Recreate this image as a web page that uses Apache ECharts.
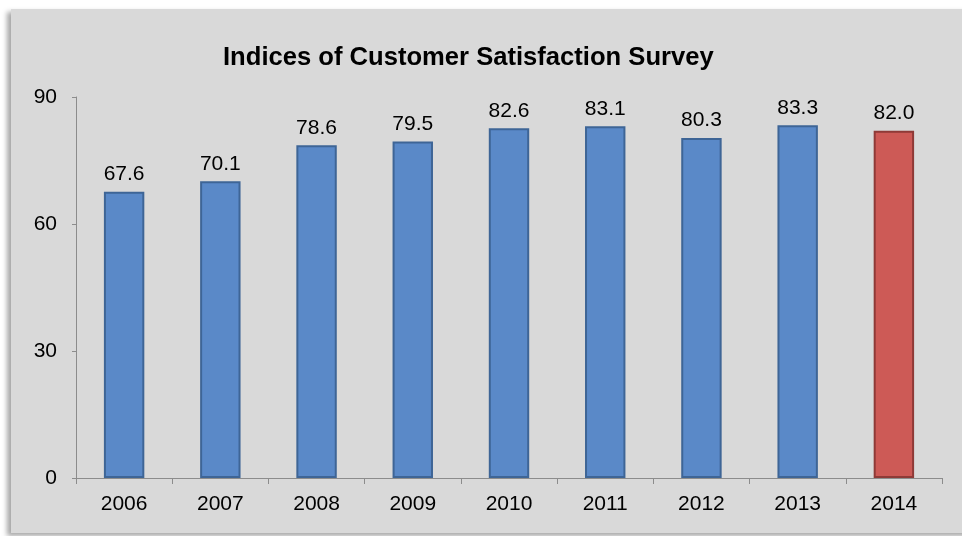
<!DOCTYPE html>
<html>
<head>
<meta charset="utf-8">
<script src="https://cdn.jsdelivr.net/npm/echarts@6/dist/echarts.min.js"></script>
<style>
html,body{margin:0;padding:0;background:#fff;width:962px;height:536px;overflow:hidden;}
#bg{position:absolute;left:11px;top:9px;width:960px;height:524px;background:#d9d9d9;box-shadow:-4px 3px 5px rgba(0,0,0,0.35);}
#chart{position:absolute;left:0;top:0;width:962px;height:536px;}
</style>
</head>
<body>
<div id="bg"></div>
<div id="chart"></div>
<script>
var categories = ['2006','2007','2008','2009','2010','2011','2012','2013','2014'];
var values = [67.6, 70.1, 78.6, 79.5, 82.6, 83.1, 80.3, 83.3, 82.0];
var yTicks = [0, 30, 60, 90];
var titleText = 'Indices of Customer Satisfaction Survey';

var blue = '#5a89c8', blueBorder = '#3e6596';
var red = '#cd5a56', redBorder = '#8f3a37';

var chart = echarts.init(document.getElementById('chart'), null, {renderer:'canvas'});
var font = 'Liberation Sans, Arial, sans-serif';
chart.setOption({
  animation: false,
  backgroundColor: 'transparent',
  title: {
    text: titleText,
    left: 223,
    top: 45,
    padding: 0,
    textStyle: {fontFamily: font, fontSize: 25.6, fontWeight: 'bold', color: '#000'}
  },
  grid: {left: 76, right: 20, top: 97, bottom: 58, containLabel: false},
  xAxis: {
    type: 'category',
    data: categories,
    boundaryGap: true,
    axisLine: {show: true, lineStyle: {color: '#8c8c8c', width: 1}},
    axisTick: {show: true, length: 6, alignWithLabel: false, lineStyle: {color: '#8c8c8c'}},
    axisLabel: {fontFamily: font, fontSize: 21, color: '#000', margin: 16}
  },
  yAxis: {
    type: 'value',
    min: yTicks[0],
    max: yTicks[yTicks.length - 1],
    interval: yTicks[1] - yTicks[0],
    splitLine: {show: false},
    axisLine: {show: true, lineStyle: {color: '#8c8c8c', width: 1}},
    axisTick: {show: true, length: 4, lineStyle: {color: '#8c8c8c'}},
    axisLabel: {fontFamily: font, fontSize: 21, color: '#000', margin: 19}
  },
  series: [{
    type: 'bar',
    barWidth: '42%',
    data: values.map(function (v, i) {
      var last = i === values.length - 1;
      return {value: v, itemStyle: {color: last ? red : blue, borderColor: last ? redBorder : blueBorder, borderWidth: 2}};
    }),
    label: {
      show: true,
      position: 'top',
      distance: 7,
      fontFamily: font,
      fontSize: 21,
      color: '#000',
      formatter: function (p) { return p.value.toFixed(1); }
    }
  }]
});
</script>
</body>
</html>
